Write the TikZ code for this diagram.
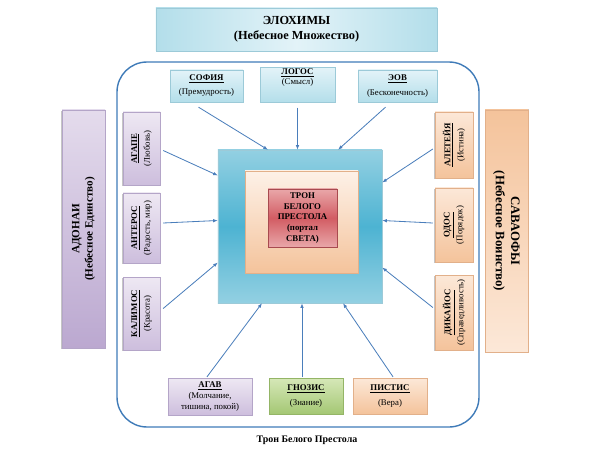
\documentclass[tikz,border=0pt]{standalone}
\usepackage{fontspec}
\setmainfont{Liberation Serif}
\usetikzlibrary{arrows.meta}
\usetikzlibrary{calc}
\usetikzlibrary{shadows}

\definecolor{lineblue}{HTML}{4A7EBB}
\definecolor{frameblue}{HTML}{3F7BB8}
\definecolor{iceA}{HTML}{E3F3F8}
\definecolor{iceB}{HTML}{B3DEEA}
\definecolor{iceD}{HTML}{9CCAD8}
\definecolor{lilacA}{HTML}{EEE8F3}
\definecolor{lilacB}{HTML}{CDBEDD}
\definecolor{lilacC}{HTML}{BBA8D0}
\definecolor{lilacD}{HTML}{B4A5C8}
\definecolor{apricotA}{HTML}{FCE8D8}
\definecolor{apricotB}{HTML}{F4C39B}
\definecolor{apricotD}{HTML}{E2B08A}
\definecolor{mossA}{HTML}{D6E8B8}
\definecolor{mossB}{HTML}{A4C774}
\definecolor{mossD}{HTML}{94B566}
\definecolor{seaA}{HTML}{93D0E2}
\definecolor{seaB}{HTML}{4DB3D2}
\definecolor{roseA}{HTML}{E9A7A9}
\definecolor{roseB}{HTML}{D25C63}

\begin{document}
\begin{tikzpicture}[x=0.03cm,y=-0.03cm,>/.tip={Latex[length=4pt,width=3pt]},
	box/.style={inner sep=1pt,align=center,line width=0.3pt,font=\fontsize{7.5}{9}\selectfont},
	hshadow/.style={drop shadow={shadow xshift=0.8pt,shadow yshift=-0.8pt,fill=black!45,opacity=0.5}},
	lshadow/.style={drop shadow={shadow xshift=-0.8pt,shadow yshift=-0.8pt,fill=black!45,opacity=0.5}},
	rshadow/.style={drop shadow={shadow xshift=0.8pt,shadow yshift=0.8pt,fill=black!45,opacity=0.5}},
	icebox/.style={box,hshadow,draw=iceD,top color=iceA,bottom color=iceB},
	lilacbox/.style={box,draw=lilacD,top color=lilacA,bottom color=lilacB},
	apricotbox/.style={box,draw=apricotD,top color=apricotA,bottom color=apricotB},
	mossbox/.style={box,hshadow,draw=mossD,top color=mossA,bottom color=mossB},
	leftside/.style={lilacbox,lshadow,rotate=90},
	rightside/.style={apricotbox,lshadow,rotate=90},
	link/.style={->,draw=lineblue,line width=0.7pt}]
	\useasboundingbox (0,0) rectangle (591,453);

	% outer frame
	\draw[frameblue,line width=1.2pt,rounded corners=0.9cm] (117,62) rectangle (479,427);
	\draw (307,440) node (caption) [font=\bfseries\fontsize{8.5}{10}\selectfont] {Трон Белого Престола};

	\draw (296.5,29.5) node (elohim) [icebox,minimum width=8.43cm,minimum height=1.29cm,font=\bfseries\fontsize{10.5}{13}\selectfont,left color=iceB,right color=iceB,middle color=iceA] {ЭЛОХИМЫ\\(Небесное Множество)};
	\draw (83.5,229) node (adonai) [leftside,minimum width=7.14cm,minimum height=1.29cm,top color=lilacA!70!lilacB,bottom color=lilacC,font=\bfseries\fontsize{9.5}{11.5}\selectfont] {АДОНАИ\\(Небесное Единство)};
	\draw (506.5,231) node (sabaoth) [apricotbox,rshadow,rotate=-90,minimum width=7.26cm,minimum height=1.29cm,top color=apricotB,bottom color=apricotA,font=\bfseries\fontsize{11}{13}\selectfont] {САВАОФЫ\\(Небесное Воинство)};

	% throne
	\draw (300,226.5) node (sky) [box,hshadow,draw=iceD,minimum width=4.92cm,minimum height=4.59cm,top color=seaA,bottom color=seaA,middle color=seaB] {};
	\draw (301.5,222) node (dawn) [box,draw=apricotD,minimum width=3.39cm,minimum height=3.06cm,top color=apricotA!60!white,bottom color=apricotB] {};
	\draw (302.5,218) node (throne) [box,hshadow,draw=roseB!80!black,minimum width=2.07cm,minimum height=1.74cm,top color=roseA,bottom color=roseA,middle color=roseB,font=\bfseries\fontsize{7.5}{9}\selectfont] {ТРОН\\БЕЛОГО\\ПРЕСТОЛА\\(портал\\СВЕТА)};

	% top row
	\draw (206.5,86) node (sofia) [icebox,minimum width=2.19cm,minimum height=0.96cm] {\textbf{\underline{СОФИЯ}}\\[3pt](Премудрость)};
	\draw (297.5,85) node (logos) [icebox,minimum width=2.25cm,minimum height=0.93cm] {\textbf{\underline{ЛОГОС}}\\(Смысл)\\[5pt]};
	\draw (397.5,86) node (eov) [icebox,minimum width=2.37cm,minimum height=0.96cm] {\textbf{\underline{ЭОВ}}\\[3pt](Бесконечность)};

	% left column
	\draw (141.5,148.5) node (agape) [leftside,minimum width=2.19cm,minimum height=1.11cm] {\textbf{\underline{АГАПЕ}}\\[2pt](Любовь)};
	\draw (141.5,228) node (anteros) [leftside,minimum width=2.10cm,minimum height=1.11cm] {\textbf{\underline{АНТЕРОС}}\\[2pt](Радость, мир)};
	\draw (141.5,313.5) node (kalimos) [leftside,minimum width=2.19cm,minimum height=1.11cm] {\textbf{\underline{КАЛИМОС}}\\[2pt](Красота)};

	% right column
	\draw (454,145) node (aletheia) [rightside,minimum width=1.98cm,minimum height=1.14cm] {\textbf{\underline{АЛЕТЕЙЯ}}\\[2pt](Истина)};
	\draw (454,225) node (odos) [rightside,minimum width=2.22cm,minimum height=1.14cm] {\textbf{\underline{ОДОС}}\\[2pt](Порядок)};
	\draw (454,312.5) node (dikaios) [rightside,minimum width=2.25cm,minimum height=1.14cm] {\textbf{\underline{ДИКАЙОС}}\\[2pt](Справедливость)};

	% bottom row
	\draw (210,396.5) node (agav) [lilacbox,hshadow,minimum width=2.52cm,minimum height=1.11cm] {\textbf{\underline{АГАВ}}\\(Молчание,\\тишина, покой)};
	\draw (306,396) node (gnosis) [mossbox,minimum width=2.22cm,minimum height=1.08cm] {\textbf{\underline{ГНОЗИС}}\\[3pt](Знание)};
	\draw (390,396) node (pistis) [apricotbox,hshadow,minimum width=2.22cm,minimum height=1.08cm] {\textbf{\underline{ПИСТИС}}\\[3pt](Вера)};

	\draw[link] ($(sofia.south)+(-8,5)$) -- ($(sky.north)+(-32,0)$);
	\draw[link] ($(logos.south)+(0,5)$) -- (logos.south |- sky.north);
	\draw[link] ($(eov.south)+(-12,5)$) -- ($(sky.north)+(38,0)$);
	\draw[link] ($(agape.south)+(3,2)$) -- ($(sky.west)+(0,-51)$);
	\draw[link] ($(anteros.south)+(3,-5)$) -- ($(sky.west)+(0,-6)$);
	\draw[link] ($(kalimos.south)+(3,-5)$) -- ($(sky.west)+(0,36)$);
	\draw[link] ($(aletheia.north)+(-2,4)$) -- ($(sky.east)+(0,-44)$);
	\draw[link] ($(odos.north)+(-2,-2)$) -- ($(sky.east)+(0,-6)$);
	\draw[link] ($(dikaios.north)+(-2,-5)$) -- ($(sky.east)+(0,41)$);
	\draw[link] ($(agav.north)+(-3,-1)$) -- ($(sky.south)+(-38,0)$);
	\draw[link] ($(gnosis.north)+(-4,-1)$) -- ($(sky.south)+(2,0)$);
	\draw[link] ($(pistis.north)+(3,-1)$) -- ($(sky.south)+(43,0)$);
\end{tikzpicture}
\end{document}
